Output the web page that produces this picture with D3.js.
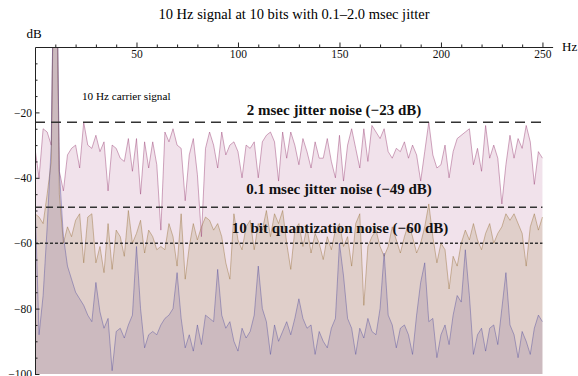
<!DOCTYPE html>
<html>
<head>
<meta charset="utf-8">
<script src="https://cdn.jsdelivr.net/npm/d3@7"></script>
<style>
  body { margin: 0; background: #fff; }
  svg { font-family: "Liberation Serif", "DejaVu Serif", serif; }
  .axis path, .axis line { stroke: #222; }
  .axis text { font-size: 11.5px; fill: #111; }
  .note { font-weight: bold; font-size: 15px; fill: #111; }
</style>
</head>
<body>
<svg width="578" height="376"></svg>
<script>
// spectrum sampled every 2 Hz, 0..250 Hz
const freqs = d3.range(0, 251, 2);

// 2 msec jitter (pink)
const jitter2 = [
  -31, -40, -25, -26, -30, 60, -38, -44, -33, -31,
  -30, -37, -23, -30, -31, -27, -32, -29, -44, -30,
  -31, -34, -35, -28, -38, -28, -45, -29, -37, -29,
  -36, -56, -26, -29, -25, -30, -31, -47, -33, -28,
  -39, -58, -31, -26, -30, -37, -26, -33, -30, -29,
  -32, -40, -30, -31, -29, -40, -29, -27, -26, -29,
  -41, -26, -34, -26, -30, -36, -28, -32, -37, -29,
  -34, -34, -28, -35, -40, -27, -41, -30, -25, -31,
  -37, -25, -35, -24, -26, -28, -25, -32, -34, -31,
  -32, -29, -34, -30, -33, -41, -32, -23, -33, -37,
  -36, -30, -40, -32, -28, -27, -26, -25, -36, -31,
  -38, -24, -34, -30, -34, -48, -36, -27, -34, -28,
  -31, -24, -29, -42, -32, -34
];

// 0.1 msec jitter (tan)
const jitter01 = [
  -51, -52, -54, -45, -35, 60, -45, -60, -55, -58,
  -53, -51, -66, -52, -51, -66, -61, -69, -54, -68,
  -56, -58, -64, -50, -60, -57, -53, -63, -56, -58,
  -62, -61, -62, -54, -58, -67, -51, -71, -61, -54,
  -59, -55, -52, -53, -56, -54, -58, -66, -71, -51,
  -59, -62, -55, -53, -62, -54, -56, -50, -58, -51,
  -54, -50, -60, -68, -56, -54, -61, -55, -63, -57,
  -60, -65, -58, -62, -56, -54, -61, -58, -67, -54,
  -51, -79, -61, -58, -56, -61, -64, -61, -55, -59,
  -63, -58, -54, -58, -63, -60, -55, -48, -58, -66,
  -60, -62, -74, -64, -67, -60, -56, -59, -54, -59,
  -62, -57, -54, -60, -57, -55, -51, -53, -51, -54,
  -57, -67, -55, -51, -56, -52
];

// 10 bit quantization (purple)
const quant10 = [
  -46, -88, -76, -55, -30, 60, -38, -58, -67, -71,
  -75, -77, -79, -82, -84, -72, -81, -86, -83, -99,
  -87, -86, -89, -85, -82, -61, -80, -92, -88, -87,
  -88, -85, -83, -82, -80, -69, -83, -92, -88, -93,
  -85, -91, -82, -83, -84, -68, -82, -86, -84, -90,
  -93, -86, -89, -87, -82, -67, -80, -84, -94, -85,
  -90, -87, -84, -88, -83, -77, -83, -86, -85, -94,
  -87, -90, -92, -86, -83, -60, -70, -83, -86, -94,
  -86, -89, -83, -87, -88, -80, -63, -82, -85, -92,
  -86, -85, -88, -94, -82, -72, -66, -84, -83, -95,
  -88, -85, -91, -82, -76, -78, -62, -76, -94, -88,
  -86, -93, -86, -85, -91, -80, -69, -85, -88, -95,
  -87, -90, -94, -86, -82, -84
];

const noiseLevels = [-23, -49, -60];
const noiseLabels = ['2 msec jitter noise (\u221223 dB)', '0.1 msec jitter noise (\u221249 dB)', '10 bit quantization noise (\u221260 dB)'];
const xMajor = [50, 100, 150, 200, 250];
const yMajor = [-20, -40, -60, -80, -100];

const svg = d3.select('svg');

const x = d3.scaleLinear().domain([0, 255]).range([35, 552.6]);
const y = d3.scaleLinear().domain([-100, 0]).range([374, 47]);

svg.append('defs').append('clipPath').attr('id', 'plot')
  .append('rect')
  .attr('x', x(0)).attr('y', y(0))
  .attr('width', x(255) - x(0)).attr('height', y(-100) - y(0));

const series = [
  { vals: jitter2, fill: 'rgba(160,60,120,0.15)', line: 'rgba(153,61,116,0.45)' },
  { vals: jitter01, fill: 'rgba(160,135,70,0.2)', line: 'rgba(153,116,61,0.45)' },
  { vals: quant10, fill: 'rgba(115,95,145,0.18)', line: 'rgba(63,61,153,0.38)' }
];

const plot = svg.append('g').attr('clip-path', 'url(#plot)');

const area = d3.area()
  .x((d, i) => x(freqs[i]))
  .y0(y(-100))
  .y1((d) => y(d));

const line = d3.line()
  .x((d, i) => x(freqs[i]))
  .y((d) => y(d));

series.forEach((s) => {
  plot.append('path')
    .attr('d', area(s.vals))
    .attr('fill', s.fill);
});

series.forEach((s) => {
  plot.append('path')
    .attr('d', line(s.vals))
    .attr('fill', 'none')
    .attr('stroke', s.line)
    .attr('stroke-width', 1);
});

// noise level lines
const dashes = ['10,6', '7,4', '3,2'];
noiseLevels.forEach((lvl, i) => {
  svg.append('line')
    .attr('x1', x(0)).attr('x2', x(250))
    .attr('y1', y(lvl)).attr('y2', y(lvl))
    .attr('stroke', '#333')
    .attr('stroke-width', 1.6)
    .attr('stroke-dasharray', dashes[i]);
});

// axes
const serif = '"Liberation Serif", "DejaVu Serif", serif';

svg.append('g')
  .attr('class', 'axis')
  .attr('transform', `translate(0, ${y(0)})`)
  .call(d3.axisBottom(x).tickValues(d3.range(10, 251, 10).filter((v) => v % 50 !== 0))
    .tickSizeInner(-2.5).tickSizeOuter(0).tickFormat(''))
  .call((g) => g.select('.domain').remove());

svg.append('g')
  .attr('class', 'axis')
  .attr('transform', `translate(0, ${y(0)})`)
  .call(d3.axisBottom(x).tickValues(xMajor)
    .tickSizeInner(-4.5).tickSizeOuter(0).tickPadding(3).tickFormat(d3.format('d')))
  .attr('font-family', serif);

svg.append('g')
  .attr('class', 'axis')
  .attr('transform', `translate(${x(0)}, 0)`)
  .call(d3.axisLeft(y).tickValues(d3.range(-95, 0, 5).filter((v) => v % 20 !== 0))
    .tickSizeInner(-2.5).tickSizeOuter(0).tickFormat(''))
  .call((g) => g.select('.domain').remove());

svg.append('g')
  .attr('class', 'axis')
  .attr('transform', `translate(${x(0)}, 0)`)
  .call(d3.axisLeft(y).tickValues(yMajor)
    .tickSizeInner(-4.5).tickSizeOuter(0).tickPadding(3).tickFormat(d3.format('d')))
  .attr('font-family', serif);

// labels
svg.append('text')
  .attr('x', 294).attr('y', 19)
  .attr('text-anchor', 'middle')
  .attr('font-size', 14.5)
  .text('10 Hz signal at 10 bits with 0.1\u20132.0 msec jitter');

svg.append('text')
  .attr('x', 34).attr('y', 38)
  .attr('text-anchor', 'middle')
  .attr('font-size', 13)
  .text('dB');

svg.append('text')
  .attr('x', 562).attr('y', 51)
  .attr('font-size', 13)
  .text('Hz');

svg.append('text')
  .attr('x', 82).attr('y', 100)
  .attr('font-size', 11.2)
  .text('10 Hz carrier signal');

const labelX = [334, 339, 340];
const labelY = [115, 194, 233];
noiseLabels.forEach((t, i) => {
  svg.append('text')
    .attr('class', 'note')
    .attr('x', labelX[i]).attr('y', labelY[i])
    .attr('text-anchor', 'middle')
    .text(t);
});
</script>
</body>
</html>
